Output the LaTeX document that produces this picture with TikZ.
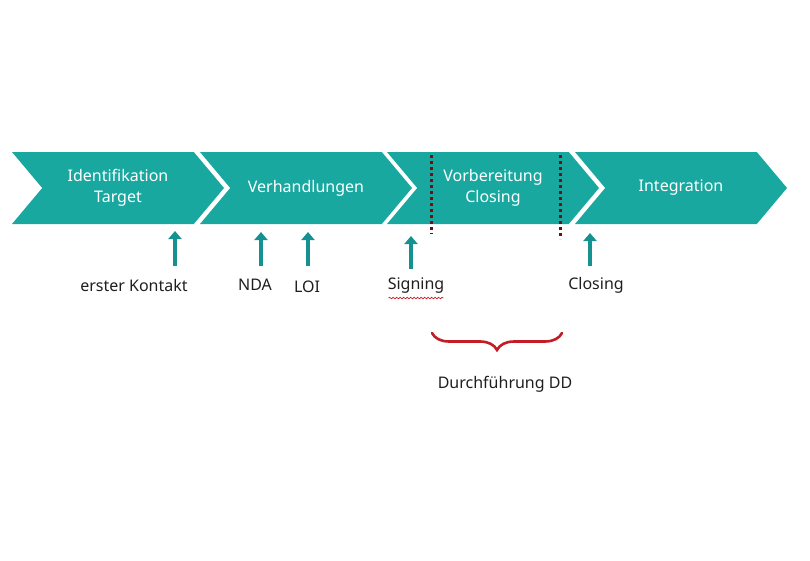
\documentclass[tikz,border=0pt]{standalone}
\usepackage{fontspec}
\setmainfont{Noto Sans}
\usepackage{tikz}
\usetikzlibrary{arrows.meta, shapes.symbols, decorations.pathreplacing, decorations.pathmorphing}
\definecolor{phaseteal}{RGB}{24,168,160}
\definecolor{arrowteal}{RGB}{22,145,145}
\definecolor{ddred}{RGB}{196,28,36}
\definecolor{labelgray}{RGB}{30,30,30}

\begin{document}
\begin{tikzpicture}[
    x=1pt, y=-1pt,
    phase/.style={signal, signal from=west, signal to=east, signal pointer angle=100,
                  fill=phaseteal, draw=none, minimum width=212pt, minimum height=72pt,
                  inner sep=0pt, align=center, text=white, font=\fontsize{16}{21}\selectfont},
    event/.style={font=\fontsize{16}{20}\selectfont, text=labelgray, inner sep=1pt},
    milestone/.style={-{Triangle[width=13pt, length=8pt]}, line width=4.5pt, arrowteal},
    cut/.style={line width=3pt, dash pattern=on 3pt off 3pt, ddred!55!black},
]
    \useasboundingbox (0,0) rectangle (810,560);

    % Phasen
    \node[phase] (ident)  at (118,188) {Identifikation\\Target};
    \node[phase] (verh)   at (306,188) {Verhandlungen};
    \node[phase] (vorb)   at (493,188) {Vorbereitung\\Closing};
    \node[phase] (integr) at (681,188) {Integration};

    % Ereignisse
    \node[event] (kontakt) at (134,285) {erster Kontakt};
    \node[event] (nda)     at (255,285) {NDA};
    \node[event] (loi)     at (307,287) {LOI};
    \node[event] (sign)    at (416,286) {Signing};
    \node[event] (closing) at (596,285) {Closing};

    \coordinate (k0) at (175,266); \coordinate (k1) at (175,231);
    \coordinate (n0) at (261,266); \coordinate (n1) at (261,232);
    \coordinate (l0) at (308,266); \coordinate (l1) at (308,232);
    \coordinate (s0) at (411,269); \coordinate (s1) at (411,236);
    \coordinate (c0) at (590,266); \coordinate (c1) at (590,233);
    \foreach \a in {k,n,l,s,c}
        \draw[milestone] (\a0) -- (\a1);

    % DD-Abschnitt
    \coordinate (dd1) at (431,155); \coordinate (dd1e) at (431,234);
    \coordinate (dd2) at (560,155); \coordinate (dd2e) at (560,239);
    \draw[cut] (dd1) -- (dd1e);
    \draw[cut] (dd2) -- (dd2e);

    \draw[decorate, decoration={snake, amplitude=0.8pt, segment length=3.5pt}, ddred, line width=0.7pt]
        ([xshift=2pt,yshift=-3pt]sign.south west) -- ([xshift=-2pt,yshift=-3pt]sign.south east);

    \draw[decorate, decoration={brace, mirror, amplitude=17pt, aspect=0.5}, ddred, line width=2.6pt, line cap=round]
        (432,333) -- (562,333) coordinate[midway] (bracemid);
    \node[event] (dd) at (505,384) {Durchführung DD};
\end{tikzpicture}
\end{document}
